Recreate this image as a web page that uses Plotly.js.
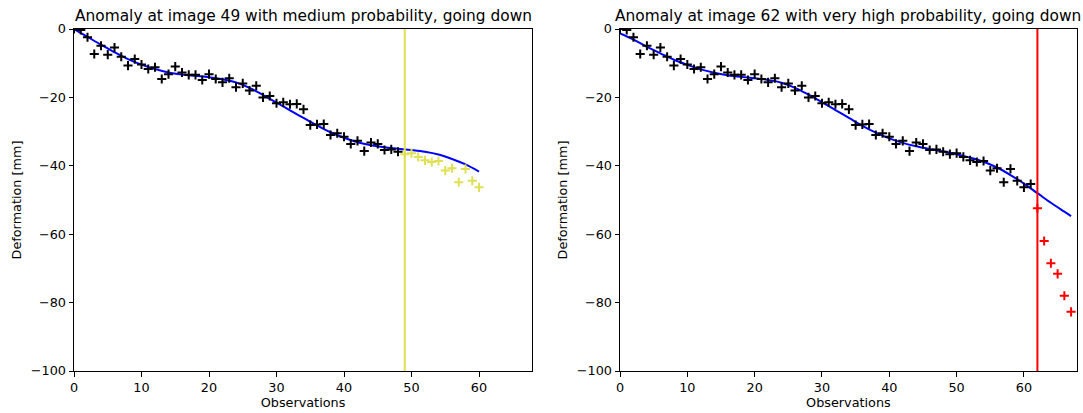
<!DOCTYPE html>
<html>
<head>
<meta charset="utf-8">
<script src="https://cdn.plot.ly/plotly-3.0.1.min.js"></script>
<style>html,body{margin:0;padding:0;background:#fff;}#chart{width:1083px;height:413px;}</style>
</head>
<body>
<div id="chart"></div>
<script>
// Measured deformation [mm] at observations 0..61
const deformation = [0, -0.3, -2.4, -7.3, -4.9, -7.5, -5.4, -8.1, -10.7, -8.8,
  -10.4, -11.7, -11.2, -14.6, -13.2, -11.0, -12.7, -13.4, -13.4, -14.9,
  -13.2, -14.6, -15.6, -14.4, -17.0, -15.9, -18.0, -16.6, -20.0, -19.6,
  -21.7, -21.4, -22.0, -21.9, -23.5, -28.1, -27.9, -27.8, -31.0, -30.5,
  -31.5, -33.6, -32.7, -35.7, -33.2, -33.6, -35.4, -35.2, -35.9, -36.6,
  -36.3, -37.4, -38.4, -38.9, -38.6, -41.4, -40.7, -44.8, -40.9, -44.4,
  -46.3, -45.3];
// Anomalous observations 62..67 (right chart)
const anomalyObs = [62, 63, 64, 65, 66, 67];
const anomalyDef = [-52.4, -62.0, -68.5, -71.6, -78.0, -82.7];

// Fitted curves
const fitLeftX = [0,2,4,6,8,10,12,14,16,18,20,22,24,26,28,30,32,34,36,38,40,42,44,46,48,50,52,54,56,58,60];
const fitLeftY = [0,-2.3,-4.6,-6.8,-8.8,-10.4,-11.7,-12.7,-13.3,-13.7,-14.1,-14.7,-15.6,-17.2,-19.3,-21.5,-23.8,-26.0,-28.2,-30.2,-31.8,-33.1,-34.0,-34.6,-35.0,-35.4,-35.9,-36.7,-38.0,-39.6,-41.7];
const fitRightX = [0,2,4,6,8,10,12,14,16,18,20,22,24,26,28,30,32,34,36,38,40,42,44,46,48,50,52,54,56,58,60,62,64,66,67];
const fitRightY = [-1.3,-3.1,-5.2,-7.1,-9.0,-10.5,-11.8,-12.8,-13.5,-14.0,-14.4,-14.9,-15.7,-17.2,-19.2,-21.4,-23.7,-26.0,-28.3,-30.3,-32.0,-33.3,-34.3,-35.1,-35.8,-36.6,-37.6,-38.8,-40.5,-42.7,-45.2,-48.0,-50.8,-53.4,-54.7];

const leftAnomaly = 49, leftEnd = 60;
const rightAnomaly = 62;
const titles = ["Anomaly at image 49 with medium probability, going down",
                "Anomaly at image 62 with very high probability, going down"];
const xTickVals = [0, 10, 20, 30, 40, 50, 60];
const xTickText = ["0", "10", "20", "30", "40", "50", "60"];
const yTickVals = [0, -20, -40, -60, -80, -100];
const yTickText = ["0", "\u221220", "\u221240", "\u221260", "\u221280", "\u2212100"];
const xLabel = "Observations", yLabel = "Deformation [mm]";

const obs = deformation.map((_, i) => i);
const FONT = "DejaVu Sans, sans-serif";
const YELLOW = "#e0e055";

function crosses(x, y, color, xa, ya) {
  return {x, y, type: "scatter", mode: "markers", xaxis: xa, yaxis: ya, showlegend: false,
    marker: {symbol: "cross-thin", size: 6.5, color: color, line: {color: color, width: 2}}};
}

const traces = [
  {x: fitLeftX, y: fitLeftY, type: "scatter", mode: "lines", line: {color: "#0000ff", width: 2, shape: "spline"}, xaxis: "x", yaxis: "y", showlegend: false},
  crosses(obs.slice(0, leftAnomaly), deformation.slice(0, leftAnomaly), "#000000", "x", "y"),
  crosses(obs.slice(leftAnomaly, leftEnd + 1), deformation.slice(leftAnomaly, leftEnd + 1), YELLOW, "x", "y"),
  {x: fitRightX, y: fitRightY, type: "scatter", mode: "lines", line: {color: "#0000ff", width: 2, shape: "spline"}, xaxis: "x2", yaxis: "y2", showlegend: false},
  crosses(obs, deformation, "#000000", "x2", "y2"),
  crosses(anomalyObs, anomalyDef, "#ff0000", "x2", "y2")
];

const W = 1083, H = 413;
const yDom = [1 - 371 / H, 1 - 29 / H];
function xAxis(dom, anchor) {
  return {domain: dom, anchor: anchor, range: [0, 67.85], tickvals: xTickVals, ticktext: xTickText,
    ticks: "outside", ticklen: 4.5, tickwidth: 1, tickcolor: "#000", showline: true, mirror: true,
    linecolor: "#000", linewidth: 1, showgrid: false, zeroline: false,
    tickfont: {family: FONT, size: 12.8, color: "#000"},
    title: {text: xLabel, font: {family: FONT, size: 12.8, color: "#000"}, standoff: 4}};
}
function yAxis(anchor) {
  return {domain: yDom, anchor: anchor, range: [-100, 0], tickvals: yTickVals, ticktext: yTickText,
    ticks: "outside", ticklen: 4.5, tickwidth: 1, tickcolor: "#000", showline: true, mirror: true,
    linecolor: "#000", linewidth: 1, showgrid: false, zeroline: false,
    tickfont: {family: FONT, size: 12.8, color: "#000"},
    title: {text: yLabel, font: {family: FONT, size: 12.8, color: "#000"}, standoff: 6}};
}
const xd1 = [74 / W, 532 / W], xd2 = [620 / W, 1076.8 / W];
const layout = {
  width: W, height: H, margin: {l: 0, r: 0, t: 0, b: 0},
  paper_bgcolor: "#fff", plot_bgcolor: "#fff",
  xaxis: xAxis(xd1, "y"), yaxis: yAxis("x"),
  xaxis2: xAxis(xd2, "y2"), yaxis2: yAxis("x2"),
  shapes: [
    {type: "line", xref: "x", yref: "y domain", x0: leftAnomaly, x1: leftAnomaly, y0: 0, y1: 1, line: {color: YELLOW, width: 2}, layer: "above"},
    {type: "line", xref: "x2", yref: "y2 domain", x0: rightAnomaly, x1: rightAnomaly, y0: 0, y1: 1, line: {color: "#ff0000", width: 2}, layer: "above"}
  ],
  annotations: [
    {text: titles[0], xref: "paper", yref: "paper", x: (xd1[0] + xd1[1]) / 2, y: yDom[1], yshift: 2, xanchor: "center", yanchor: "bottom", showarrow: false, font: {family: FONT, size: 15.4, color: "#000"}},
    {text: titles[1], xref: "paper", yref: "paper", x: (xd2[0] + xd2[1]) / 2, y: yDom[1], yshift: 2, xanchor: "center", yanchor: "bottom", showarrow: false, font: {family: FONT, size: 15.4, color: "#000"}}
  ]
};
Plotly.newPlot("chart", traces, layout, {staticPlot: true, displayModeBar: false});
</script>
</body>
</html>
